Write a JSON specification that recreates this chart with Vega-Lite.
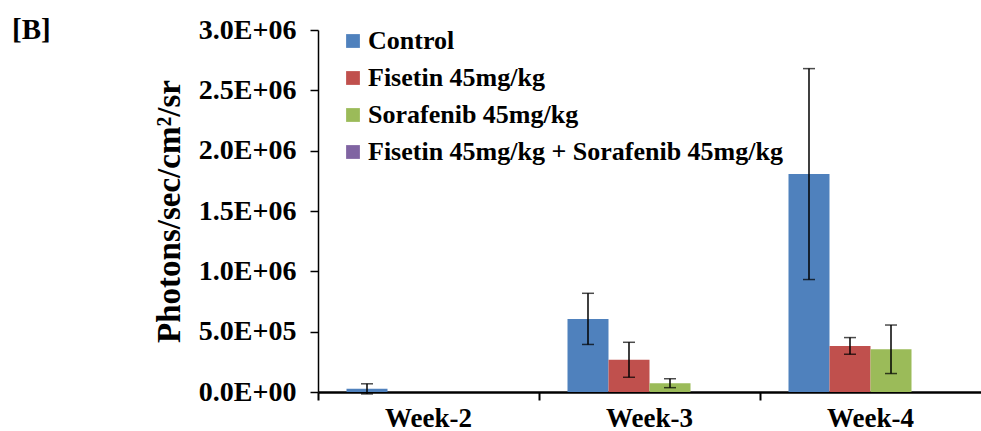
{
  "$schema": "https://vega.github.io/schema/vega-lite/v6.json",
  "autosize": {"type": "none"},
  "padding": {"left": 318, "top": 30, "right": 0, "bottom": 39},
  "width": 663,
  "height": 362,
  "background": "white",
  "title": {
    "text": "[B]",
    "anchor": "start",
    "frame": "group",
    "dx": -306,
    "dy": 33,
    "font": "serif",
    "fontSize": 29,
    "fontWeight": "bold",
    "color": "black"
  },
  "config": {
    "view": {"stroke": null},
    "font": "serif",
    "axis": {"grid": false, "domainColor": "black", "tickColor": "black", "labelColor": "black", "titleColor": "black", "labelFont": "serif", "titleFont": "serif", "labelFontWeight": "bold", "titleFontWeight": "bold"},
    "legend": {"labelFont": "serif"}
  },
  "data": {
    "values": [
      {"week": "Week-2", "group": "Control", "value": 26000, "err": 42000},
      {"week": "Week-2", "group": "Fisetin 45mg/kg", "value": 0, "err": null},
      {"week": "Week-2", "group": "Sorafenib 45mg/kg", "value": 0, "err": null},
      {"week": "Week-2", "group": "Fisetin 45mg/kg + Sorafenib 45mg/kg", "value": 0, "err": null},
      {"week": "Week-3", "group": "Control", "value": 606000, "err": 212000},
      {"week": "Week-3", "group": "Fisetin 45mg/kg", "value": 267000, "err": 145000},
      {"week": "Week-3", "group": "Sorafenib 45mg/kg", "value": 73000, "err": 37000},
      {"week": "Week-3", "group": "Fisetin 45mg/kg + Sorafenib 45mg/kg", "value": 0, "err": null},
      {"week": "Week-4", "group": "Control", "value": 1806000, "err": 874000},
      {"week": "Week-4", "group": "Fisetin 45mg/kg", "value": 382000, "err": 69000},
      {"week": "Week-4", "group": "Sorafenib 45mg/kg", "value": 354000, "err": 201000},
      {"week": "Week-4", "group": "Fisetin 45mg/kg + Sorafenib 45mg/kg", "value": 0, "err": null}
    ]
  },
  "encoding": {
    "x": {
      "field": "week", "type": "nominal",
      "scale": {"paddingInner": 0, "paddingOuter": 0},
      "axis": {
        "title": null, "labelAngle": 0, "bandPosition": 0, "labelOffset": 0,
        "labelFont": "serif",
        "labelFontSize": 27, "labelPadding": 5, "tickSize": 8, "tickWidth": 2, "domainWidth": 2.5
      }
    },
    "xOffset": {
      "field": "group", "type": "nominal",
      "scale": {"domain": ["Control", "Fisetin 45mg/kg", "Sorafenib 45mg/kg", "Fisetin 45mg/kg + Sorafenib 45mg/kg"], "paddingInner": 0, "paddingOuter": 0.695}
    }
  },
  "layer": [
    {
      "mark": {"type": "bar"},
      "encoding": {
        "y": {
          "field": "value", "type": "quantitative",
          "scale": {"domain": [0, 3000000], "nice": false},
          "title": "Photons/sec/cm²/sr",
          "axis": {
            "values": [0, 500000, 1000000, 1500000, 2000000, 2500000, 3000000],
            "labelExpr": "datum.value == 0 ? '0.0E+00' : (datum.value < 1000000 ? format(datum.value/100000, '.1f') + 'E+05' : format(datum.value/1000000, '.1f') + 'E+06')",
            "labelFont": "serif",
            "labelFontSize": 28, "labelPadding": 14, "tickSize": 8, "tickWidth": 1.5, "domainWidth": 1.5,
            "titleFont": "serif", "titleFontSize": 33, "titlePadding": 12
          }
        },
        "color": {
          "field": "group", "type": "nominal",
          "scale": {
            "domain": ["Control", "Fisetin 45mg/kg", "Sorafenib 45mg/kg", "Fisetin 45mg/kg + Sorafenib 45mg/kg"],
            "range": ["#4F81BD", "#C0504D", "#9BBB59", "#8064A2"]
          },
          "legend": {
            "title": null, "orient": "none", "legendX": 22, "legendY": -2,
            "symbolType": "square", "symbolSize": 190, "symbolStrokeWidth": 0,
            "labelFont": "serif", "labelFontSize": 26, "labelFontWeight": "bold", "labelColor": "black",
            "labelLimit": 0, "labelOffset": 2, "rowPadding": 11
          }
        }
      }
    },
    {
      "transform": [{"filter": "datum.err != null"}],
      "mark": {"type": "errorbar", "ticks": {"size": 12, "thickness": 1.5, "color": "black"}, "rule": {"strokeWidth": 1.5, "color": "black"}},
      "encoding": {
        "y": {"field": "value", "type": "quantitative", "title": "Photons/sec/cm²/sr"},
        "yError": {"field": "err"}
      }
    }
  ]
}
